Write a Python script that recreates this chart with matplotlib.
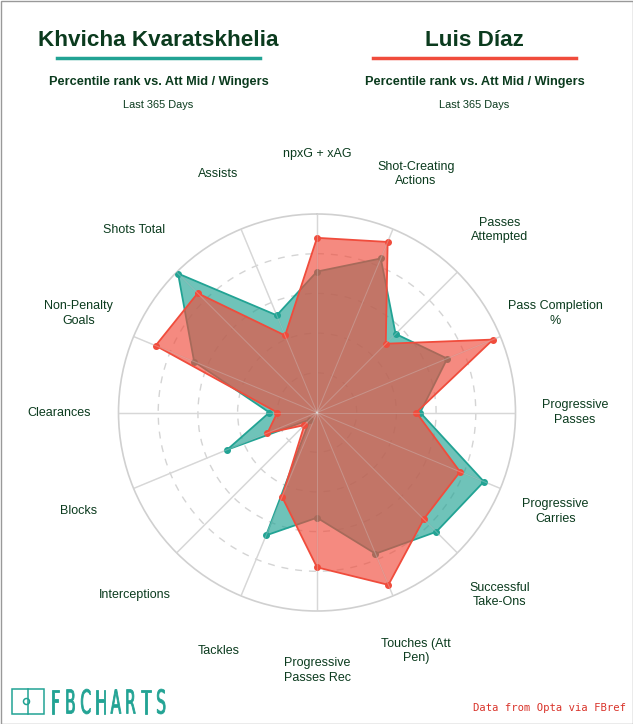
import numpy as np
import matplotlib.pyplot as plt
from matplotlib.patches import Rectangle, Circle, PathPatch
from matplotlib.lines import Line2D
from matplotlib.textpath import TextPath
from matplotlib.font_manager import FontProperties
from matplotlib.transforms import Affine2D

# percentile ranks, clockwise from the top
stats = ['npxG + xAG', 'Shot-Creating\nActions', 'Passes\nAttempted', 'Pass Completion\n%',
         'Progressive\nPasses', 'Progressive\nCarries', 'Successful\nTake-Ons', 'Touches (Att\nPen)',
         'Progressive\nPasses Rec', 'Tackles', 'Interceptions', 'Blocks', 'Clearances',
         'Non-Penalty\nGoals', 'Shots Total', 'Assists']
kvara = [71, 84, 56, 71, 52, 91, 85, 77, 53, 67, 5, 49, 24, 67, 99, 53]
diaz = [88, 93, 49, 96, 50, 78, 76, 94, 78, 46, 9, 27, 20, 88, 85, 42]
players = ['Khvicha Kvaratskhelia', 'Luis Díaz']

TEAL = '#22a394'
RED = '#f04c3c'
DARK = '#0b3b1e'
W, H = 633, 724

plt.rcParams['font.family'] = ['Liberation Sans', 'DejaVu Sans']

fig = plt.figure(figsize=(W / 100, H / 100), dpi=100)

# overlay in pixel coords for header / footer
ax0 = fig.add_axes([0, 0, 1, 1])
ax0.set_xlim(0, W)
ax0.set_ylim(H, 0)
ax0.axis('off')
ax0.add_patch(Rectangle((0.5, 0.5), W - 1, H - 1, fill=False, ec='#999999', lw=1))

for name, cx, col in [(players[0], 158.5, TEAL), (players[1], 474.5, RED)]:
    ax0.text(cx, 40, name, ha='center', va='center', fontsize=16.2, fontweight='bold', color=DARK)
    ax0.add_line(Line2D([cx - 101.5, cx + 101.5], [58.3, 58.3], color=col, lw=2.5))
    ax0.text(cx, 81.5, 'Percentile rank vs. Att Mid / Wingers', ha='center', va='center',
             fontsize=9.2, fontweight='bold', color=DARK)
    ax0.text(cx, 104.5, 'Last 365 Days', ha='center', va='center', fontsize=7.9, color=DARK)

# footer logo
ax0.add_patch(Rectangle((11.7, 689), 32.6, 25, fill=False, ec=TEAL, lw=1.1))
ax0.add_line(Line2D([28, 28], [689, 714], color=TEAL, lw=1.1))
ax0.add_patch(Circle((26.5, 701.5), 3, fill=False, ec=TEAL, lw=1.1))
fp = FontProperties(family='DejaVu Sans')
for i, ch in enumerate('FBCHARTS'):
    tp = TextPath((0, 0), ch, size=1, prop=fp)
    bb = tp.get_extents()
    sx = 15.5
    sy = 24 / 0.73
    x0 = 51 + i * 15.1 + (9 - bb.width * sx) / 2 - bb.x0 * sx
    tr = Affine2D().scale(sx, -sy).translate(x0, 713.5)
    ax0.add_patch(PathPatch(tr.transform_path(tp), fc=TEAL, ec=TEAL, lw=0.6))
ax0.text(626, 708, 'Data from Opta via FBref', ha='right', va='center',
         fontsize=7.6, family='DejaVu Sans Mono', color='#d9342b')

# radar
R = 198.5
cx, cy = 317, 412.5
ax = fig.add_axes([(cx - R) / W, 1 - (cy + R) / H, 2 * R / W, 2 * R / H], projection='polar')
ax.set_theta_zero_location('N')
ax.set_theta_direction(-1)
theta = np.radians(np.arange(len(stats)) * 360 / len(stats))
ax.set_ylim(0, 100)
ax.set_yticks([20, 40, 60, 80])
ax.set_yticklabels([])
ax.set_xticks(theta)
ax.set_xticklabels([])
ax.yaxis.grid(True, color='#d4d4d4', ls=(0, (5, 5)), lw=1)
ax.xaxis.grid(True, color='#d4d4d4', ls='-', lw=1)
ax.spines['polar'].set_color('#d0d0d0')
ax.spines['polar'].set_linewidth(1.2)
ax.set_axisbelow(True)
ax.patch.set_alpha(0)

t_c = np.append(theta, theta[0])
for vals, col, z in [(kvara, TEAL, 2), (diaz, RED, 4)]:
    v = np.append(vals, vals[0])
    ax.fill(t_c, v, color=col, alpha=0.65, lw=0, zorder=z)
    ax.plot(t_c, v, color=col, lw=1.3, zorder=z + 0.5)
    ax.plot(theta, vals, 'o', color=col, ms=4, zorder=z + 0.6)

for t in theta:
    ax.plot([t, t], [0, 100], color='#e0e0e0', lw=0.8, alpha=0.3, zorder=7)

for t, lab in zip(theta, stats):
    ax.text(t, 130, lab, ha='center', va='center', fontsize=9, color=DARK,
            linespacing=1.3, clip_on=False)

fig.savefig('out.png', dpi=100)
